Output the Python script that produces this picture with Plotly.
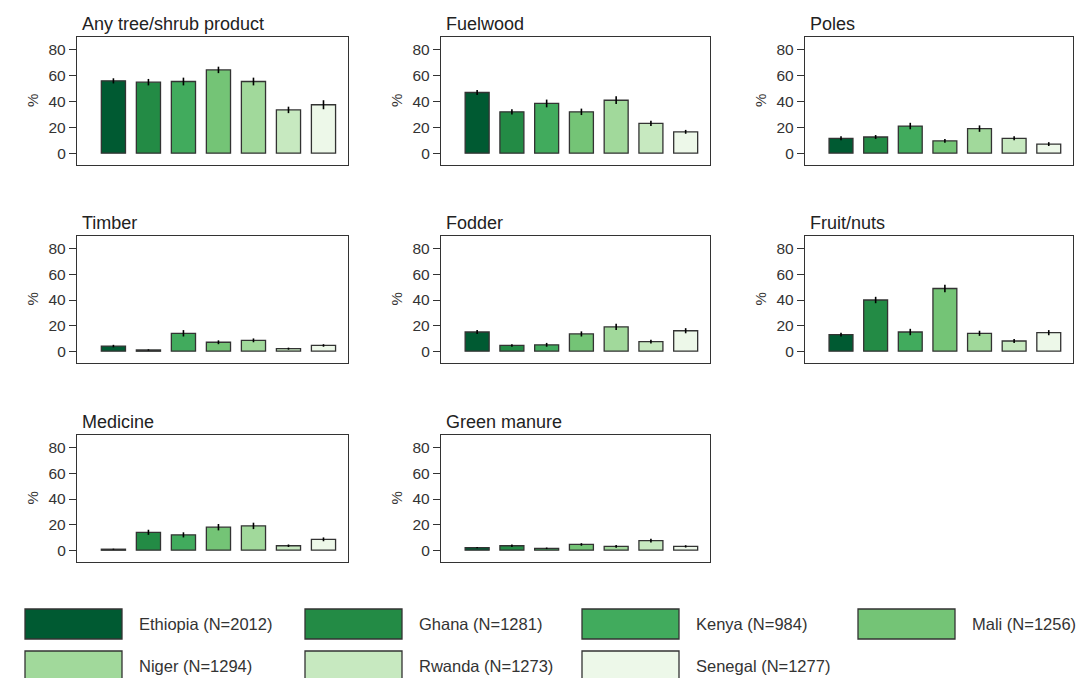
import plotly.graph_objects as go

# ---------------- data ----------------
countries = ["Ethiopia", "Ghana", "Kenya", "Mali", "Niger", "Rwanda", "Senegal"]
sample_sizes = [2012, 1281, 984, 1256, 1294, 1273, 1277]
colors = ["#005A32", "#238B45", "#41AB5D", "#74C476", "#A1D99B", "#C7E9C0", "#EDF8E9"]

products = ["Any tree/shrub product", "Fuelwood", "Poles", "Timber", "Fodder",
            "Fruit/nuts", "Medicine", "Green manure"]

any_product = [56, 55, 55.5, 64.5, 55.5, 33.5, 37.5]
any_product_err = [2, 2.5, 3, 2.5, 3, 2.5, 3.5]
fuelwood = [47, 32, 38.5, 32, 41, 23, 16.5]
fuelwood_err = [2, 2, 3, 2.5, 3, 2, 1.5]
poles = [11.5, 12.5, 21, 9.5, 19, 11.5, 7]
poles_err = [1.5, 1.5, 2.5, 1.5, 2.5, 1.5, 1.5]
timber = [4, 1, 14, 7, 8.5, 2, 4.5]
timber_err = [1, 0.5, 2.5, 1.5, 1.5, 0.8, 1]
fodder = [15, 4.5, 5, 13.5, 19, 7.5, 16]
fodder_err = [1.5, 1, 1.5, 2, 2.5, 1.5, 2]
fruit_nuts = [13, 40, 15, 49, 14, 8, 14.5]
fruit_nuts_err = [1.5, 2.5, 2.5, 3, 2, 1.5, 2]
medicine = [0.8, 14, 12, 18, 19, 3.5, 8.5]
medicine_err = [0.4, 2, 2, 2.5, 2.5, 1, 1.5]
green_manure = [2, 3.5, 1.5, 4.5, 3, 7.5, 3]
green_manure_err = [0.5, 1, 0.6, 1, 1, 1.5, 0.9]

values = [any_product, fuelwood, poles, timber, fodder, fruit_nuts, medicine, green_manure]
errors = [any_product_err, fuelwood_err, poles_err, timber_err, fodder_err,
          fruit_nuts_err, medicine_err, green_manure_err]

y_ticks = [0, 20, 40, 60, 80]

# ---------------- layout geometry (window pixels) ----------------
W, H = 1079, 678
FONT = "Liberation Sans, Arial, sans-serif"
col_x = [(77, 348), (441, 710), (805, 1073)]
row_y = [(37, 165), (236, 363), (435, 562)]


def px_x(p):
    return p / W


def px_y(p):
    return 1 - p / H


fig = go.Figure()
annotations = []
shapes = []
layout_axes = {}

for i, prod in enumerate(products):
    r, c = divmod(i, 3)
    x0, x1 = col_x[c]
    y0, y1 = row_y[r]
    n = i + 1
    xa = "x" if n == 1 else f"x{n}"
    ya = "y" if n == 1 else f"y{n}"
    fig.add_trace(go.Bar(
        x=countries, y=values[i], xaxis=xa, yaxis=ya,
        marker=dict(color=colors, line=dict(color="#333333", width=1.3)),
        width=0.69,
        error_y=dict(type="data", array=errors[i], visible=True,
                     color="black", thickness=1.6, width=0),
        showlegend=False, hoverinfo="x+y",
    ))
    xkey = "xaxis" if n == 1 else f"xaxis{n}"
    ykey = "yaxis" if n == 1 else f"yaxis{n}"
    layout_axes[xkey] = dict(
        domain=[px_x(x0), px_x(x1)], anchor=ya, type="category",
        range=[-1.04, 6.7], showticklabels=False, ticks="",
        showline=True, mirror=True, linecolor="#333333", linewidth=1.3,
        showgrid=False, zeroline=False, fixedrange=True,
    )
    layout_axes[ykey] = dict(
        domain=[px_y(y1), px_y(y0)], anchor=xa, range=[-9.2, 90],
        tickvals=y_ticks, ticks="outside", ticklen=7, tickcolor="#333333",
        tickwidth=1.2, tickfont=dict(size=15.5, color="#333333", family=FONT),
        showline=True, mirror=True, linecolor="#333333", linewidth=1.3,
        showgrid=False, zeroline=False, fixedrange=True,
    )
    # panel title
    annotations.append(dict(
        text=prod, xref="paper", yref="paper", x=px_x(x0 + 3), y=px_y(y0 - 13),
        xanchor="left", yanchor="middle", showarrow=False,
        font=dict(size=18, color="#222222", family=FONT),
    ))
    # y label
    annotations.append(dict(
        text="%", xref="paper", yref="paper", x=px_x(x0 - 45), y=px_y((y0 + y1) / 2),
        xanchor="center", yanchor="middle", showarrow=False, textangle=-90,
        font=dict(size=15, color="#333333", family=FONT),
    ))

# ---------------- legend (drawn as swatches + labels) ----------------
leg_cols = [25, 305, 582, 858]
leg_rows = [(609, 639), (651, 681)]
sw_w = 97
for k, (name, nn, colr) in enumerate(zip(countries, sample_sizes, colors)):
    rr, cc = divmod(k, 4)
    lx = leg_cols[cc]
    ly0, ly1 = leg_rows[rr]
    shapes.append(dict(
        type="rect", xref="paper", yref="paper",
        x0=px_x(lx), x1=px_x(lx + sw_w), y0=px_y(ly1), y1=px_y(ly0),
        fillcolor=colr, line=dict(color="#333333", width=1.3),
    ))
    annotations.append(dict(
        text=f"{name} (N={nn})", xref="paper", yref="paper",
        x=px_x(lx + 112), y=px_y((ly0 + ly1) / 2),
        xanchor="left", yanchor="middle", showarrow=False,
        font=dict(size=16.5, color="#333333", family=FONT),
    ))

fig.update_layout(
    width=W, height=H, margin=dict(l=0, r=0, t=0, b=0),
    paper_bgcolor="white", plot_bgcolor="white",
    font=dict(family=FONT, color="#333333"),
    annotations=annotations, shapes=shapes, bargap=0.3,
    **layout_axes,
)

fig.write_html(
    "out.html",
    config={"displayModeBar": False},
    post_script="document.body.style.margin='0px';"
                "document.body.style.overflow='hidden';",
)
